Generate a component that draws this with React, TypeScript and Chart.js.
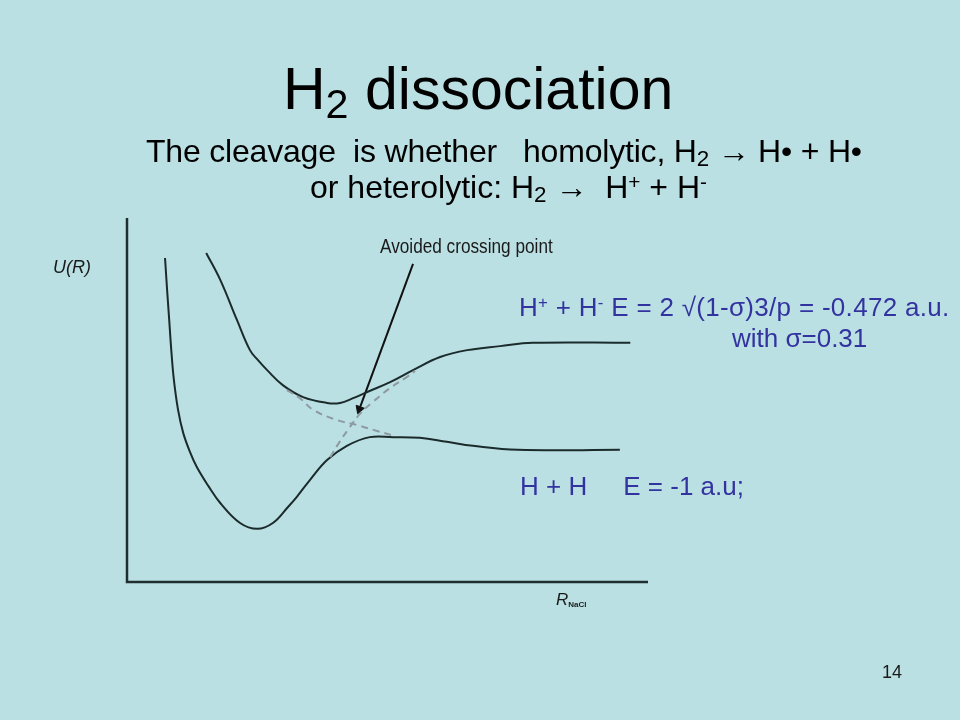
import React, { useEffect, useRef } from "react";
import { Chart, registerables } from "chart.js";

Chart.register(...registerables);

// Potential-energy curves (R in arbitrary units 0-10, U in arbitrary units 0-10)
const lowerR = [0.73, 0.77, 0.81, 0.85, 0.9, 0.98, 1.08, 1.21, 1.34, 1.56, 1.79, 2.17, 2.5, 2.8, 3.09, 3.26, 3.51, 3.84, 4.22, 4.66, 5.11, 5.62, 6.14, 6.64, 7.5, 9.46];
const lowerU = [8.9, 8.02, 7.2, 6.37, 5.55, 4.73, 4.09, 3.57, 3.16, 2.64, 2.17, 1.62, 1.46, 1.62, 2.06, 2.34, 2.8, 3.35, 3.74, 3.98, 3.98, 3.96, 3.85, 3.74, 3.63, 3.63];

const upperR = [1.52, 1.79, 2.11, 2.36, 2.51, 2.69, 2.99, 3.38, 3.84, 4.09, 4.34, 4.61, 5.05, 5.49, 6.01, 6.53, 7.16, 7.79, 9.66];
const upperU = [9.04, 8.3, 7.2, 6.37, 6.1, 5.82, 5.41, 5.08, 4.92, 4.92, 5.05, 5.22, 5.49, 5.82, 6.18, 6.37, 6.48, 6.57, 6.57];

const diabaticDownR = [3.07, 3.32, 3.57, 4.03, 4.42, 4.8, 5.14];
const diabaticDownU = [5.27, 5.05, 4.73, 4.45, 4.31, 4.15, 4.01];

const diabaticUpR = [3.9, 4.09, 4.28, 4.47, 4.72, 5.05, 5.37, 5.53];
const diabaticUpU = [3.43, 3.87, 4.26, 4.62, 4.95, 5.33, 5.63, 5.8];

const arrowR = [5.49, 4.46];
const arrowU = [8.74, 4.75];

const BG = "#BBE0E3";
const CURVE = "#1b2a2b";
const DASH = "#8e9aa1";
const BLUE = "#3333a0";
const FONT = '"Liberation Sans", Arial, sans-serif';

const pts = (xs: number[], ys: number[]) => xs.map((x, i) => ({ x, y: ys[i] }));

const axesPlugin = {
  id: "axesLines",
  beforeDatasetsDraw(chart: any) {
    const { ctx, chartArea } = chart;
    ctx.save();
    ctx.strokeStyle = "#1f2f30";
    ctx.lineWidth = 2.5;
    ctx.beginPath();
    ctx.moveTo(chartArea.left, chartArea.top);
    ctx.lineTo(chartArea.left, chartArea.bottom);
    ctx.lineTo(chartArea.right, chartArea.bottom);
    ctx.stroke();
    ctx.restore();
  },
};

export default function App() {
  const ref = useRef<HTMLCanvasElement>(null);

  useEffect(() => {
    if (!ref.current) return;
    const curve = (xs: number[], ys: number[], color: string, dashed: boolean) => ({
      data: pts(xs, ys),
      borderColor: color,
      borderWidth: 2,
      borderDash: dashed ? [7, 5] : [],
      pointRadius: 0,
      tension: 0.4,
    });
    const chart = new Chart(ref.current, {
      type: "line",
      data: {
        datasets: [
          curve(diabaticDownR, diabaticDownU, DASH, true),
          curve(diabaticUpR, diabaticUpU, DASH, true),
          curve(lowerR, lowerU, CURVE, false),
          curve(upperR, upperU, CURVE, false),
          {
            data: pts(arrowR, arrowU),
            borderColor: "#111",
            borderWidth: 2,
            pointRadius: [0, 5],
            pointStyle: "triangle",
            rotation: 200,
            pointBackgroundColor: "#111",
            pointBorderColor: "#111",
            pointBorderWidth: 1,
            tension: 0,
          },
        ] as any,
      },
      options: {
        animation: false,
        responsive: false,
        maintainAspectRatio: false,
        events: [],
        layout: { padding: { left: 127, top: 218, right: 312, bottom: 138 } },
        plugins: { legend: { display: false }, tooltip: { enabled: false }, title: { display: false } },
        scales: {
          x: { type: "linear", min: 0, max: 10, display: false },
          y: { type: "linear", min: 0, max: 10, display: false },
        },
        datasets: { line: { clip: false } } as any,
      },
      plugins: [axesPlugin],
    });
    return () => chart.destroy();
  }, []);

  const abs = (left: number, top: number, fontSize: number, color: string, extra: any = {}) => ({
    position: "absolute" as const,
    left,
    top,
    fontSize,
    color,
    lineHeight: 1,
    whiteSpace: "pre" as const,
    fontFamily: FONT,
    ...extra,
  });
  const sub = { fontSize: "0.7em", verticalAlign: "-0.2em", lineHeight: 0 };
  const sup = { fontSize: "0.65em", verticalAlign: "0.45em", lineHeight: 0 };

  return (
    <div style={{ position: "fixed", left: 0, top: 0, width: 960, height: 720, background: BG, overflow: "hidden", fontFamily: FONT }}>
      <canvas ref={ref} width={960} height={720} style={{ position: "absolute", left: 0, top: 0, width: 960, height: 720 }} />
      <div style={abs(283, 60, 59, "#000")}>
        H<span style={{ fontSize: "0.7em", verticalAlign: "-0.22em", lineHeight: 0 }}>2</span> dissociation
      </div>
      <div style={abs(146, 135, 32, "#000", { letterSpacing: "-0.2px" })}>
        The cleavage  is whether   homolytic, H<span style={sub}>2</span> → H• + H•
      </div>
      <div style={abs(310, 171, 32, "#000")}>
        or heterolytic: H<span style={sub}>2</span> →  H<span style={sup}>+</span> + H<span style={sup}>-</span>
      </div>
      <div style={abs(380, 236, 20, "#1a1a1a", { transform: "scaleX(0.86)", transformOrigin: "left top" })}>Avoided crossing point</div>
      <div style={abs(53, 258, 18, "#1a1a1a", { fontStyle: "italic" })}>U(R)</div>
      <div style={abs(556, 591, 17, "#1a1a1a", { fontStyle: "italic" })}>
        R<span style={{ fontSize: 8, fontStyle: "normal", fontWeight: "bold", verticalAlign: "-0.25em", lineHeight: 0 }}>NaCl</span>
      </div>
      <div style={abs(519, 294, 26, BLUE, { letterSpacing: "0.3px" })}>
        H<span style={sup}>+</span> + H<span style={sup}>-</span> E = 2 √(1-σ)3/p = -0.472 a.u.
      </div>
      <div style={abs(732, 325, 26, BLUE)}>with σ=0.31</div>
      <div style={abs(520, 473, 26, BLUE)}>H + H     E = -1 a.u;</div>
      <div style={abs(882, 663, 18, "#1a1a1a")}>14</div>
    </div>
  );
}
